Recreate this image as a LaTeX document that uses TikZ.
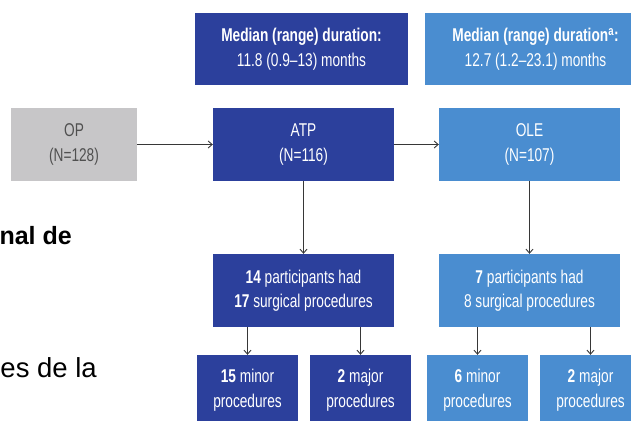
\documentclass[tikz,border=0pt]{standalone}
\usepackage{fontspec}
\setmainfont{Liberation Sans}
\newfontfamily\cond[FakeStretch=0.74]{Liberation Sans}
\usetikzlibrary{arrows.meta}
\definecolor{darkblue}{RGB}{44,64,156}
\definecolor{lightblue}{RGB}{74,141,208}
\definecolor{opgray}{RGB}{199,198,200}
\definecolor{optext}{RGB}{80,80,80}
\definecolor{linegray}{RGB}{55,55,55}
\tikzset{
  box/.style={rectangle, inner sep=0pt, align=center, text=white,
    font=\cond\fontsize{18.5}{24.5}\selectfont},
  darkbox/.style={box, fill=darkblue},
  lightbox/.style={box, fill=lightblue},
  graybox/.style={box, fill=opgray, text=optext},
  wide/.style={minimum width=181pt, minimum height=73pt},
  small/.style={minimum width=101pt, minimum height=70pt},
  conn/.style={draw=linegray, line width=0.9pt, -{Straight Barb[length=4pt,width=7pt]}},
  sidetext/.style={inner sep=0pt, text=black}
}
\begin{document}
\begin{tikzpicture}[x=1pt,y=-1pt]
\path[use as bounding box, clip] (0,0) rectangle (631,420);
\fill[white] (0,0) rectangle (631,420);
% header boxes
\node[darkbox, minimum width=213pt, minimum height=72pt] (med1) at (301.5,49)
  {\textbf{Median (range) duration:}\\11.8 (0.9–13) months};
\node[lightbox, minimum width=221pt, minimum height=72pt] (med2) at (535.5,49)
  {\textbf{Median (range) duration\textsuperscript{a}:}\\12.7 (1.2–23.1) months};
% row 2
\node[graybox, minimum width=126pt, minimum height=73pt] (op) at (74,144.5) {OP\\(N=128)};
\node[darkbox, wide] (atp) at (303.5,144.5) {ATP\\(N=116)};
\node[lightbox, wide] (ole) at (529.5,144.5) {OLE\\(N=107)};
% row 3
\node[darkbox, wide] (p14) at (303.5,290.5) {\textbf{14} participants had\\\textbf{17} surgical procedures};
\node[lightbox, wide] (p7) at (529.5,290.5) {\textbf{7} participants had\\8 surgical procedures};
% row 4
\node[darkbox, small] (b1) at (247.5,390) {\textbf{15} minor\\procedures};
\node[darkbox, small] (b2) at (360.5,390) {\textbf{2} major\\procedures};
\node[lightbox, small] (b3) at (477.5,390) {\textbf{6} minor\\procedures};
\node[lightbox, small] (b4) at (590.5,390) {\textbf{2} major\\procedures};
% connectors
\draw[conn] (op) -- (atp);
\draw[conn] (atp) -- (ole);
\draw[conn] (atp) -- (p14);
\draw[conn] (ole) -- (p7);
\draw[conn] (p14.south -| b1.north) -- (b1.north);
\draw[conn] (p14.south -| b2.north) -- (b2.north);
\draw[conn] (p7.south -| b3.north) -- (b3.north);
\draw[conn] (p7.south -| b4.north) -- (b4.north);
% partial side texts
\node[sidetext, anchor=base east, font=\bfseries\fontsize{25}{30}\selectfont] (t1) at (72,244) {nal de};
\node[sidetext, anchor=base east, font=\fontsize{27.5}{33}\selectfont] (t2) at (97,377) {es de la};
\end{tikzpicture}
\end{document}
